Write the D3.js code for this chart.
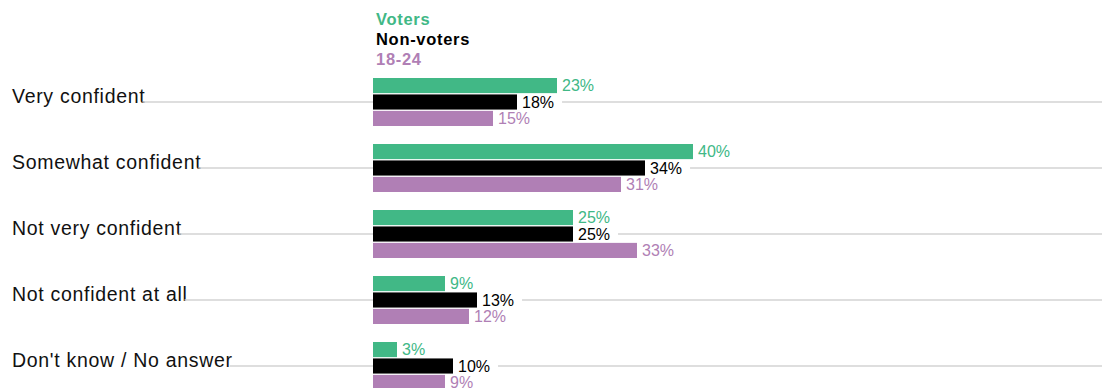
<!DOCTYPE html>
<html>
<head>
<meta charset="utf-8">
<script src="https://cdn.jsdelivr.net/npm/d3@7"></script>
<style>
  body { margin: 0; background: #fff; }
  svg { display: block; font-family: "Liberation Sans", Arial, sans-serif; }
</style>
</head>
<body>
<div id="chart"></div>
<script>
// Data
const categories = ["Very confident", "Somewhat confident", "Not very confident", "Not confident at all", "Don't know / No answer"];
const seriesNames = ["Voters", "Non-voters", "18-24"];
const voters = [23, 40, 25, 9, 3];
const nonVoters = [18, 34, 25, 13, 10];
const young = [15, 31, 33, 12, 9];

const colors = ["#41b886", "#000000", "#b07fb5"];
const valuesBySeries = [voters, nonVoters, young];

const width = 1102;
const height = 388;
const barLeft = 373;

const svg = d3.select("#chart")
    .append("svg")
    .attr("width", width)
    .attr("height", height);

const x = d3.scaleLinear()
    .domain([0, 40])
    .range([barLeft, barLeft + 320]);

const y = d3.scaleBand()
    .domain(categories)
    .range([78, 390])
    .paddingInner(18 / 66)
    .paddingOuter(0);

const ySub = d3.scaleBand()
    .domain(seriesNames)
    .range([0, y.bandwidth()])
    .paddingInner(0.08);

// legend
svg.selectAll(".legend")
    .data(seriesNames)
    .enter()
    .append("text")
    .attr("x", 376)
    .attr("y", (d, i) => 25 + i * 20)
    .attr("fill", (d, i) => colors[i])
    .style("font-size", "16.5px")
    .style("font-weight", "bold")
    .style("letter-spacing", "0.7px")
    .text(d => d);

const rows = categories.map((c, i) => ({
    category: c,
    values: seriesNames.map((s, j) => ({ series: s, value: valuesBySeries[j][i], color: colors[j] }))
}));

const groups = svg.selectAll(".row")
    .data(rows)
    .enter()
    .append("g")
    .attr("class", "row")
    .attr("transform", d => "translate(0," + y(d.category) + ")");

const lineY = ySub("Non-voters") + ySub.bandwidth() / 2;

// category labels
groups.append("text")
    .attr("class", "cat")
    .attr("x", 12)
    .attr("y", lineY + 1)
    .style("font-size", "19.5px")
    .style("letter-spacing", "0.7px")
    .attr("fill", "#111")
    .text(d => d.category);

// grid lines (drawn before bars so bars cover them)
const lineLayer = groups.append("g");

groups.selectAll(".bar")
    .data(d => d.values)
    .enter()
    .append("rect")
    .attr("class", "bar")
    .attr("x", x(0))
    .attr("y", d => ySub(d.series))
    .attr("width", d => x(d.value) - x(0))
    .attr("height", ySub.bandwidth())
    .attr("fill", d => d.color);

groups.selectAll(".val")
    .data(d => d.values)
    .enter()
    .append("text")
    .attr("class", "val")
    .attr("x", d => x(d.value) + 5)
    .attr("y", d => ySub(d.series) + ySub.bandwidth() / 2)
    .attr("dy", "0.36em")
    .attr("fill", d => d.color)
    .style("font-size", "16px")
    .text(d => d.value + "%");

lineLayer.each(function (d) {
    const g = d3.select(this.parentNode);
    const catEnd = g.select(".cat").node().getBBox();
    const valNode = g.selectAll(".val").filter(v => v.series === "Non-voters").node();
    const valEnd = +valNode.getAttribute("x") + valNode.getComputedTextLength() + 8;
    const segs = [[catEnd.x + catEnd.width - 3, barLeft], [valEnd, width]];
    d3.select(this).selectAll("line")
        .data(segs)
        .enter()
        .append("line")
        .attr("x1", s => s[0])
        .attr("x2", s => s[1])
        .attr("y1", lineY)
        .attr("y2", lineY)
        .attr("stroke", "#d3d3d3")
        .attr("stroke-width", 1.5);
});
</script>
</body>
</html>
